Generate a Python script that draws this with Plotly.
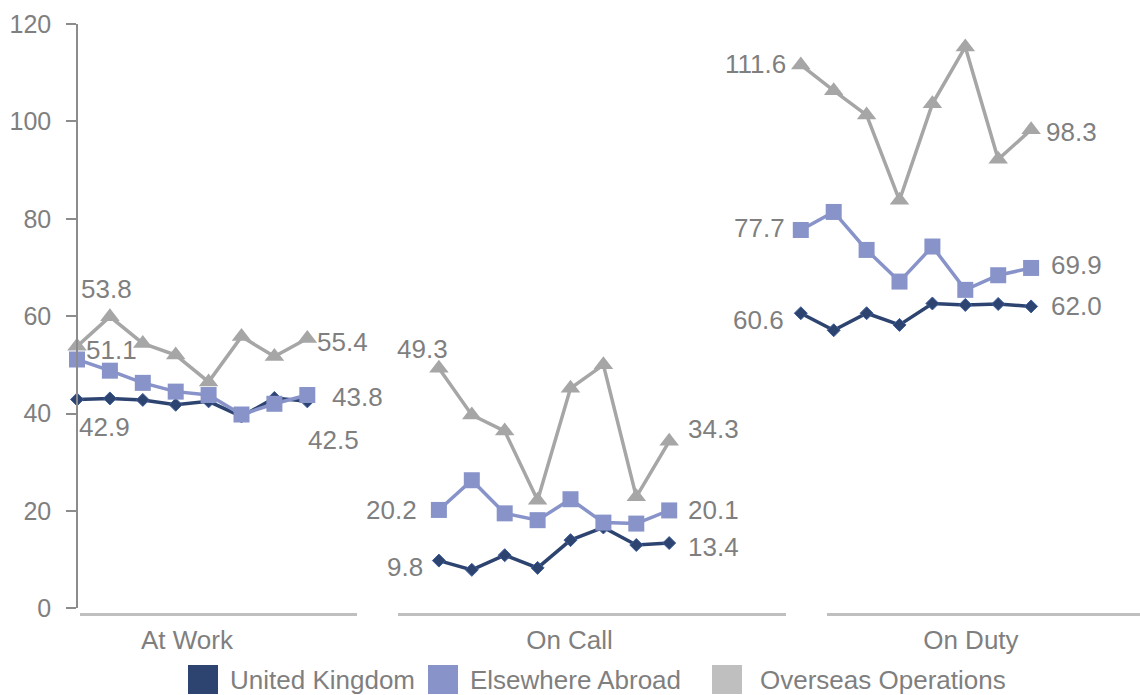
import plotly.graph_objects as go

# ---- data -------------------------------------------------------------
categories = ["At Work", "On Call", "On Duty"]
series_names = ["United Kingdom", "Elsewhere Abroad", "Overseas Operations"]

uk_at_work = [42.9, 43.1, 42.8, 41.8, 42.5, 39.4, 43.2, 42.5]
uk_on_call = [9.8, 7.9, 10.9, 8.3, 14.0, 16.6, 13.0, 13.4]
uk_on_duty = [60.6, 57.1, 60.6, 58.2, 62.6, 62.3, 62.5, 62.0]

ea_at_work = [51.1, 48.8, 46.3, 44.5, 43.8, 39.8, 42.0, 43.8]
ea_on_call = [20.2, 26.3, 19.5, 18.1, 22.4, 17.6, 17.4, 20.1]
ea_on_duty = [77.7, 81.4, 73.6, 67.1, 74.3, 65.4, 68.4, 69.9]

oo_at_work = [53.8, 59.9, 54.4, 52.0, 46.5, 55.8, 51.7, 55.4]
oo_on_call = [49.3, 39.7, 36.4, 22.2, 45.2, 50.0, 22.9, 34.3]
oo_on_duty = [111.6, 106.3, 101.3, 83.8, 103.6, 115.3, 92.2, 98.3]

y_ticks = [0, 20, 40, 60, 80, 100, 120]

# ---- styling ----------------------------------------------------------
TEXT = "#7f7f7f"
FONT = "Liberation Sans, Arial, sans-serif"
line_colors = ["#2e4470", "#8793c9", "#a6a6a6"]
swatch_colors = ["#2e4470", "#8793c9", "#bfbfbf"]
symbols = ["diamond", "square", "triangle-up"]
marker_sizes = [10, 16, 17]

GROUP_LEN = 8
GROUP_GAP = 3  # empty slots between groups

series_values = [
    [uk_at_work, uk_on_call, uk_on_duty],
    [ea_at_work, ea_on_call, ea_on_duty],
    [oo_at_work, oo_on_call, oo_on_duty],
]

# pixel offsets (dx right, dy down) for first/last value labels
label_offsets = {
    (0, 0): ((27, 28), (26, 39)),
    (0, 1): ((-34, 6), (44, 4)),
    (0, 2): ((-42, 7), (45, 0)),
    (1, 0): ((34, -9), (50, 2)),
    (1, 1): ((-47, 0), (44, 0)),
    (1, 2): ((-41, -2), (45, -3)),
    (2, 0): ((29, -57), (35, 3)),
    (2, 1): ((-16, -19), (44, -12)),
    (2, 2): ((-45, -1), (40, 2)),
}


def group_x(g):
    start = g * (GROUP_LEN + GROUP_GAP)
    return list(range(start, start + GROUP_LEN))


fig = go.Figure()
annotations = []

# empty traces so each baseline axis gets its own subplot (drawn first)
for k in (2, 3, 4):
    fig.add_trace(go.Scatter(x=[], y=[], xaxis=f"x{k}", yaxis="y",
                             showlegend=False, hoverinfo="skip"))

for s, name in enumerate(series_names):
    for g in range(len(categories)):
        vals = series_values[s][g]
        xs = group_x(g)
        fig.add_trace(go.Scatter(
            x=xs, y=vals, mode="lines+markers", name=name,
            showlegend=False, cliponaxis=False, hoverinfo="skip",
            line=dict(color=line_colors[s], width=3.5),
            marker=dict(symbol=symbols[s], size=marker_sizes[s],
                        color=line_colors[s],
                        line=dict(width=1 if s == 0 else 0,
                                  color="#3f5d9c")),
            xaxis="x", yaxis="y",
        ))
        first_off, last_off = label_offsets[(s, g)]
        for idx, (dx, dy) in ((0, first_off), (-1, last_off)):
            annotations.append(dict(
                x=xs[idx], y=vals[idx], xref="x", yref="y",
                text=f"{vals[idx]:.1f}", showarrow=False,
                xanchor="center", yanchor="middle",
                xshift=dx, yshift=-dy,
                font=dict(family=FONT, size=26, color=TEXT),
            ))

# ---- legend drawn as large swatches -----------------------------------
PLOT_L, PLOT_W = 77, 1063
PLOT_B, PLOT_H = 614, 590


def px_x(p):
    return (p - PLOT_L) / PLOT_W


def px_y(p):
    return (PLOT_B - p) / PLOT_H


legend_swatch_x = [188, 428, 712]
legend_text_x = [228, 468, 758]
shapes = []
for s, name in enumerate(series_names):
    shapes.append(dict(
        type="rect", xref="paper", yref="paper",
        x0=px_x(legend_swatch_x[s]), x1=px_x(legend_swatch_x[s] + 30),
        y0=px_y(694), y1=px_y(665),
        fillcolor=swatch_colors[s], line=dict(width=0),
    ))
    annotations.append(dict(
        x=px_x(legend_text_x[s]), y=px_y(680), xref="paper", yref="paper",
        text=name, showarrow=False, xanchor="left", yanchor="middle",
        font=dict(family=FONT, size=26, color=TEXT),
    ))

# ---- axes -------------------------------------------------------------
x_span = 32.31
cat_positions = [3.34, 14.97, 27.17]

fig.update_layout(
    width=1140, height=695,
    margin=dict(l=PLOT_L, r=0, t=24, b=695 - PLOT_B),
    paper_bgcolor="white", plot_bgcolor="rgba(0,0,0,0)",
    font=dict(family=FONT, color=TEXT),
    showlegend=False,
    xaxis=dict(
        domain=[0, 1], range=[0, x_span], anchor="y",
        showline=False, showgrid=False, zeroline=False, ticks="",
        tickmode="array", tickvals=cat_positions, ticktext=categories,
        tickfont=dict(family=FONT, size=26, color=TEXT),
        ticklabelstandoff=14,
    ),
    yaxis=dict(
        domain=[(PLOT_B - 608.3) / PLOT_H, 1], range=[0, 120],
        anchor="free", position=0,
        showline=True, linecolor="#8c8c8c", linewidth=1.5,
        ticks="outside", ticklen=10, tickcolor="#8c8c8c", tickwidth=1.5,
        tickmode="array", tickvals=y_ticks,
        showgrid=False, zeroline=False,
        tickfont=dict(family=FONT, size=25, color=TEXT),
        ticklabelstandoff=10,
    ),
    annotations=annotations,
    shapes=shapes,
)

baseline_domains = [(80, 357), (398, 786), (827, 1140)]
for k, (a, b) in zip((2, 3, 4), baseline_domains):
    fig.update_layout(**{f"xaxis{k}": dict(
        domain=[px_x(a), px_x(b)], range=[0, 1],
        anchor="free", position=0,
        showline=True, linecolor="#bfbfbf", linewidth=3,
        showgrid=False, zeroline=False, ticks="", showticklabels=False,
    )})

fig.write_html("out.html")
